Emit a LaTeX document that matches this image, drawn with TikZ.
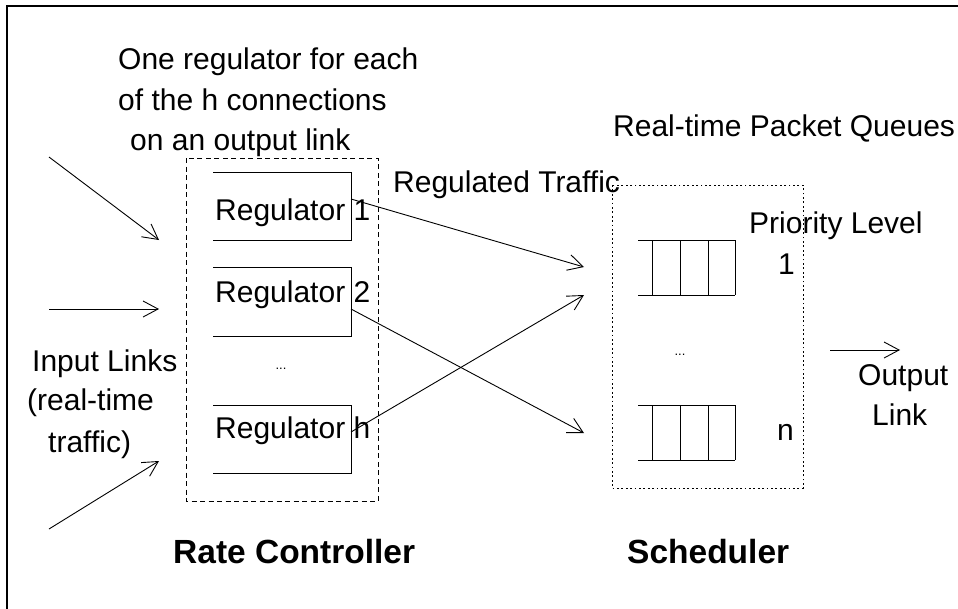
\documentclass[tikz,border=0pt]{standalone}
\usepackage{fontspec}
\setmainfont{Liberation Sans}
\usetikzlibrary{arrows.meta}
\begin{document}
\begin{tikzpicture}[x=1pt,y=-1pt,
  txt/.style={anchor=base west,inner sep=0pt,font=\fontsize{30}{36}\selectfont},
  bold/.style={anchor=base west,inner sep=0pt,font=\fontsize{33.5}{40}\selectfont\bfseries},
  dots/.style={anchor=base,inner sep=0pt,font=\fontsize{13}{15}\selectfont},
  thin/.style={line width=0.9pt},
  arr/.style={thin,-{Straight Barb[length=15pt,width=16pt,line width=0.9pt]}},
  cell/.style={line width=1pt}]
\useasboundingbox (0,0) rectangle (958,608);
% frame (only left and top edges visible)
\draw[line width=1.5pt] (7,620) -- (7,6) -- (970,6);

% top-left caption
\node[txt] (cap1) at (118,69) {One regulator for each};
\node[txt] (cap2) at (118,110) {of the h connections};
\node[txt] (cap3) at (130,150) {on an output link};

% rate controller dashed box
\draw[thin,dash pattern=on 5pt off 3.5pt] (186,158) rectangle (378,501);

% regulator boxes (open on the left)
\draw[thin] (213,172) -- (351,172) -- (351,240) -- (213,240);
\draw[thin] (213,267) -- (351,267) -- (351,336) -- (213,336);
\draw[thin] (213,405) -- (351,405) -- (351,473) -- (213,473);
\node[txt] (reg1) at (215,220) {Regulator 1};
\node[txt] (reg2) at (215,302) {Regulator 2};
\node[txt] (regh) at (215,438) {Regulator h};
\node[dots] (rdots) at (281,369) {...};

% input links
\coordinate (in1s) at (49,157); \coordinate (in1e) at (159,240);
\coordinate (in2s) at (49,309); \coordinate (in2e) at (159,309);
\coordinate (in3s) at (49,529); \coordinate (in3e) at (159,461);
\draw[arr] (in1s) -- (in1e);
\draw[arr] (in2s) -- (in2e);
\draw[arr] (in3s) -- (in3e);
\node[txt] (il1) at (32,371) {Input Links};
\node[txt] (il2) at (27,410) {(real-time};
\node[txt] (il3) at (48,452) {traffic)};

% regulated traffic
\node[txt] (rt) at (393,192) {Regulated Traffic};
\coordinate (r1o) at (351,199); \coordinate (q1a) at (584,267);
\coordinate (r2o) at (351,309); \coordinate (qna) at (584,433);
\coordinate (rho) at (351,432); \coordinate (q1b) at (584,295);
\draw[arr] (r1o) -- (q1a);
\draw[arr] (r2o) -- (qna);
\draw[arr] (rho) -- (q1b);

% scheduler dotted box
\node[txt] (rpq) at (613,136) {Real-time Packet Queues};
\draw[thin,dash pattern=on 1.8pt off 2.6pt] (612,185) rectangle (803,488);
\node[txt] (pl) at (749,233) {Priority Level};
\node[txt] (p1) at (778,274) {1};
\node[txt] (pn) at (777,440) {n};

% queues
\draw[cell] (638,240) -- (735,240) (638,295) -- (735,295);
\foreach \x in {652,680,708,735} \draw[cell] (\x,240) -- (\x,295);
\draw[cell] (638,405) -- (735,405) (638,460) -- (735,460);
\foreach \x in {652,680,708,735} \draw[cell] (\x,405) -- (\x,460);
\node[dots] (sdots) at (680,355) {...};

% output link
\coordinate (outs) at (830,350); \coordinate (oute) at (900,350);
\draw[arr] (outs) -- (oute);
\node[txt] (ol1) at (858,385) {Output};
\node[txt] (ol2) at (872,425) {Link};

% bottom labels
\node[bold] (rc) at (173,563) {Rate Controller};
\node[bold] (sch) at (627,563) {Scheduler};
\end{tikzpicture}
\end{document}
